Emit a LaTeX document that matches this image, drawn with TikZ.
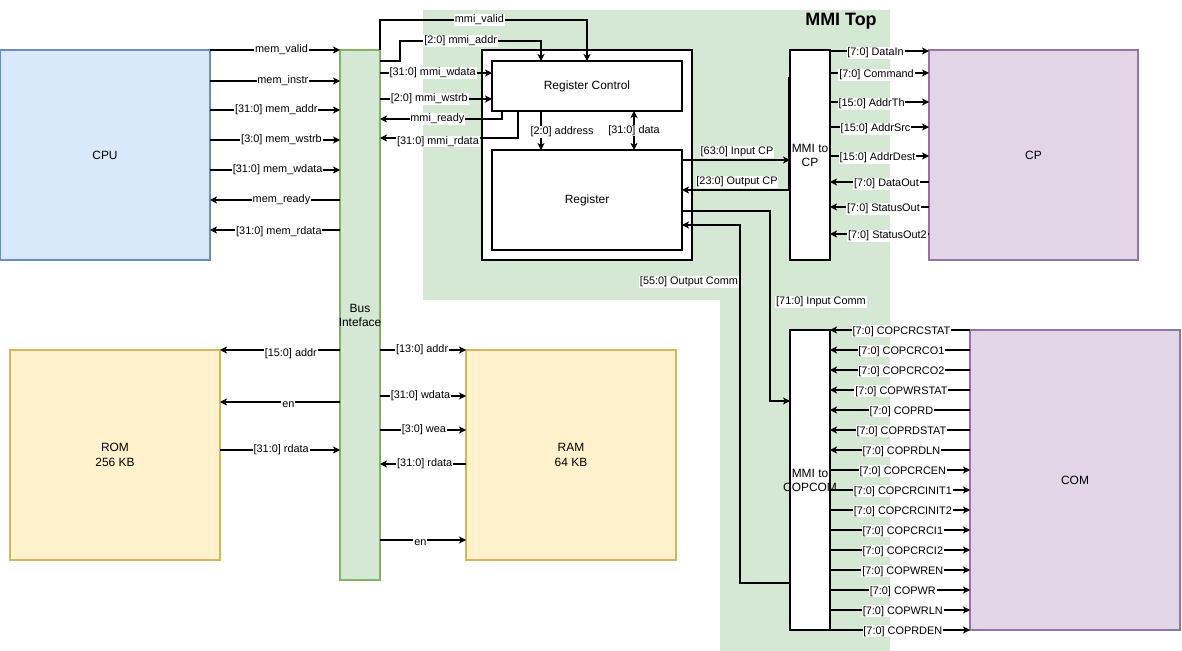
\documentclass[tikz,border=0pt]{standalone}
\usepackage{fontspec}
\setmainfont{Liberation Sans}
\usetikzlibrary{arrows.meta}

\definecolor{cpufill}{HTML}{DAE8FC}
\definecolor{cpuline}{HTML}{6C8EBF}
\definecolor{busfill}{HTML}{D5E8D4}
\definecolor{busline}{HTML}{82B366}
\definecolor{memfill}{HTML}{FFF2CC}
\definecolor{memline}{HTML}{D6B656}
\definecolor{cpfill}{HTML}{E1D5E7}
\definecolor{cpline}{HTML}{9673A6}
\definecolor{topgreen}{HTML}{D5E8D4}

% one unit of the grid, used for box sizes
\newcommand\pxu{0.02cm}

\begin{document}
\begin{tikzpicture}[x=0.02cm, y=-0.02cm,
  box/.style={draw, line width=0.6pt, outer sep=0pt, inner sep=0pt, align=center,
              font=\fontsize{6.8}{8}\selectfont},
  tip/.tip={Stealth[length=4pt, width=4pt, inset=1.1pt]},
  sig/.style={line width=0.6pt, -tip},
  bsig/.style={line width=0.6pt, tip-tip},
  lbl/.style={fill=white, inner sep=0.5pt, font=\fontsize{6.2}{7}\selectfont},
]
\useasboundingbox (0,0) rectangle (1182,651);

% MMI Top area
\fill[topgreen] (423,10) -- (890,10) -- (890,651) -- (720,651) -- (720,300) -- (423,300) -- cycle;
\node[font=\bfseries\fontsize{10.2}{12}\selectfont] (title) at (841,21) {MMI Top};

% blocks
\node[box, fill=cpufill, draw=cpuline, minimum width=210*\pxu, minimum height=210*\pxu] (cpu) at (105,155) {CPU};
\node[box, fill=busfill, draw=busline, minimum width=40*\pxu, minimum height=530*\pxu] (bus) at (360,315)
  {\makebox[0pt]{Bus}\\\makebox[0pt]{Inteface}};
\node[box, fill=memfill, draw=memline, minimum width=210*\pxu, minimum height=210*\pxu, font=\fontsize{6.8}{8.5}\selectfont] (rom) at (115,455) {ROM\\256 KB};
\node[box, fill=memfill, draw=memline, minimum width=210*\pxu, minimum height=210*\pxu, font=\fontsize{6.8}{8.5}\selectfont] (ram) at (571,455) {RAM\\64 KB};
\node[box, fill=white, minimum width=210*\pxu, minimum height=210*\pxu] (grp) at (587,155) {};
\node[box, fill=white, minimum width=190*\pxu, minimum height=50*\pxu] (regctl) at (587,86) {Register Control};
\node[box, fill=white, minimum width=190*\pxu, minimum height=100*\pxu] (reg) at (587,200) {Register};
\node[box, fill=white, minimum width=40*\pxu, minimum height=210*\pxu] (mmicp) at (810,155)
  {\makebox[0pt]{MMI to}\\\makebox[0pt]{CP}};
\node[box, fill=cpfill, draw=cpline, minimum width=209*\pxu, minimum height=210*\pxu] (cp) at (1033.5,155) {CP};
\node[box, fill=white, minimum width=40*\pxu, minimum height=300*\pxu] (mmicom) at (810,480)
  {\makebox[0pt]{MMI to}\\\makebox[0pt]{COPCOM}};
\node[box, fill=cpfill, draw=cpline, minimum width=210*\pxu, minimum height=300*\pxu] (com) at (1075,480) {COM};

% CPU <-> bus interface
\draw[sig] (cpu.east |- 0,50)  -- node[lbl, pos=.55] {mem\_valid} (bus.west |- 0,50);
\draw[sig] (cpu.east |- 0,81)  -- node[lbl, pos=.56] {mem\_instr} (bus.west |- 0,81);
\draw[sig] (cpu.east |- 0,110) -- node[lbl, pos=.51] {[31:0] mem\_addr} (bus.west |- 0,110);
\draw[sig] (cpu.east |- 0,140) -- node[lbl, pos=.55] {[3:0] mem\_wstrb} (bus.west |- 0,140);
\draw[sig] (cpu.east |- 0,170) -- node[lbl, pos=.52] {[31:0] mem\_wdata} (bus.west |- 0,170);
\draw[sig] (bus.west |- 0,200) -- node[lbl, pos=.45] {mem\_ready} (cpu.east |- 0,200);
\draw[sig] (bus.west |- 0,230) -- node[lbl, pos=.47, yshift=-1pt] {[31:0] mem\_rdata} (cpu.east |- 0,230);

% bus interface <-> ROM
\draw[sig] (bus.west |- 0,350) -- node[lbl, pos=.41, yshift=-2pt] {[15:0] addr} (rom.east |- 0,350);
\draw[sig] (bus.west |- 0,402) -- node[lbl, pos=.43, yshift=-1.5pt] {en} (rom.east |- 0,402);
\draw[sig] (rom.east |- 0,450) -- node[lbl, pos=.51] {[31:0] rdata} (bus.west |- 0,450);

% bus interface <-> RAM
\draw[sig] (bus.east |- 0,350) -- node[lbl, pos=.49] {[13:0] addr} (ram.west |- 0,350);
\draw[sig] (bus.east |- 0,396) -- node[lbl, pos=.47] {[31:0] wdata} (ram.west |- 0,396);
\draw[sig] (bus.east |- 0,430) -- node[lbl, pos=.51] {[3:0] wea} (ram.west |- 0,430);
\draw[sig] (ram.west |- 0,464) -- node[lbl, pos=.48] {[31:0] rdata} (bus.east |- 0,464);
\draw[sig] (bus.east |- 0,540) -- node[lbl, pos=.47, yshift=-1.5pt] {en} (ram.west |- 0,540);

% bus interface <-> register control
\draw[sig] (bus.north east) -- (bus.north east |- 0,20) -- node[lbl, pos=.48] {mmi\_valid} (587,20) -- (regctl.north -| 587,0);
\draw[sig] (bus.east |- 0,61) -- (400,61) -- (400,41) -- node[lbl, pos=.43] {[2:0] mmi\_addr} (541,41) -- (regctl.north -| 541,0);
\draw[sig] (bus.east |- 0,73) -- node[lbl, pos=.47] {[31:0] mmi\_wdata} (regctl.west |- 0,73);
\draw[sig] (bus.east |- 0,99) -- node[lbl, pos=.44] {[2:0] mmi\_wstrb} (regctl.west |- 0,99);
\draw[sig] (regctl.south -| 502,0) -- (502,119) -- node[lbl, pos=.53] {mmi\_ready} (bus.east |- 0,119);
\draw[sig] (regctl.south -| 518,0) -- (518,138) -- node[lbl, pos=.58, yshift=-2pt] {[31:0] mmi\_rdata} (bus.east |- 0,138);

% register control <-> register
\draw[sig] (regctl.south -| 541,0) -- (reg.north -| 541,0);
\node[lbl] (addrlbl) at (562,132) {[2:0] address};
\draw[bsig] (regctl.south -| 634,0) -- node[lbl] {[31:0] data} (reg.north -| 634,0);

% register <-> MMI to CP
\draw[sig] (reg.east |- 0,160) -- (mmicp.west |- 0,160);
\node[lbl] (incplbl) at (737,152) {[63:0] Input CP};
\draw[sig] ([xshift=-0.6pt]mmicp.west |- 0,77) -- ([xshift=-0.6pt]mmicp.west |- 0,190) -- (reg.east |- 0,190);
\node[lbl] (outcplbl) at (737,182) {[23:0] Output CP};

% register <-> MMI to COPCOM
\draw[sig] (reg.east |- 0,211) -- (770,211) -- (770,401) -- (mmicom.west |- 0,401);
\node[lbl] (incomlbl) at (821,302) {[71:0] Input Comm};
\draw[sig] (mmicom.west |- 0,583) -- (740,583) -- (740,225) -- (reg.east |- 0,225);
\node[lbl] (outcomlbl) at (689,282) {[55:0] Output Comm};

% MMI to CP <-> CP
\foreach \y/\p/\t in {51/.46/{[7:0] DataIn}, 73/.47/{[7:0] Command}, 102/.42/{[15:0] AddrTh},
                      127/.46/{[15:0] AddrSrc}, 156/.48/{[15:0] AddrDest}}
  \draw[sig] (mmicp.east |- 0,\y) -- node[lbl, pos=\p, yshift=-1pt] {\t} (cp.west |- 0,\y);
\foreach \y/\p/\t in {182/.43/{[7:0] DataOut}, 207/.46/{[7:0] StatusOut}, 234/.42/{[7:0] StatusOut2}}
  \draw[sig] (cp.west |- 0,\y) -- node[lbl, pos=\p, yshift=-1.2pt] {\t} (mmicp.east |- 0,\y);

% MMI to COPCOM <-> COM
\foreach \y/\t in {330/COPCRCSTAT, 350/COPCRCO1, 370/COPCRCO2, 390/COPWRSTAT,
                   410/COPRD, 430/COPRDSTAT, 450/COPRDLN}
  \draw[sig] (com.west |- 0,\y) -- node[lbl, pos=.49, yshift=-0.8pt] {[7:0] \t} (mmicom.east |- 0,\y);
\foreach \y/\t in {470/COPCRCEN, 490/COPCRCINIT1, 510/COPCRCINIT2, 530/COPCRCI1, 550/COPCRCI2,
                   570/COPWREN, 590/COPWR, 610/COPWRLN, 630/COPRDEN}
  \draw[sig] (mmicom.east |- 0,\y) -- node[lbl, pos=.52, yshift=-0.8pt] {[7:0] \t} (com.west |- 0,\y);
\end{tikzpicture}
\end{document}
